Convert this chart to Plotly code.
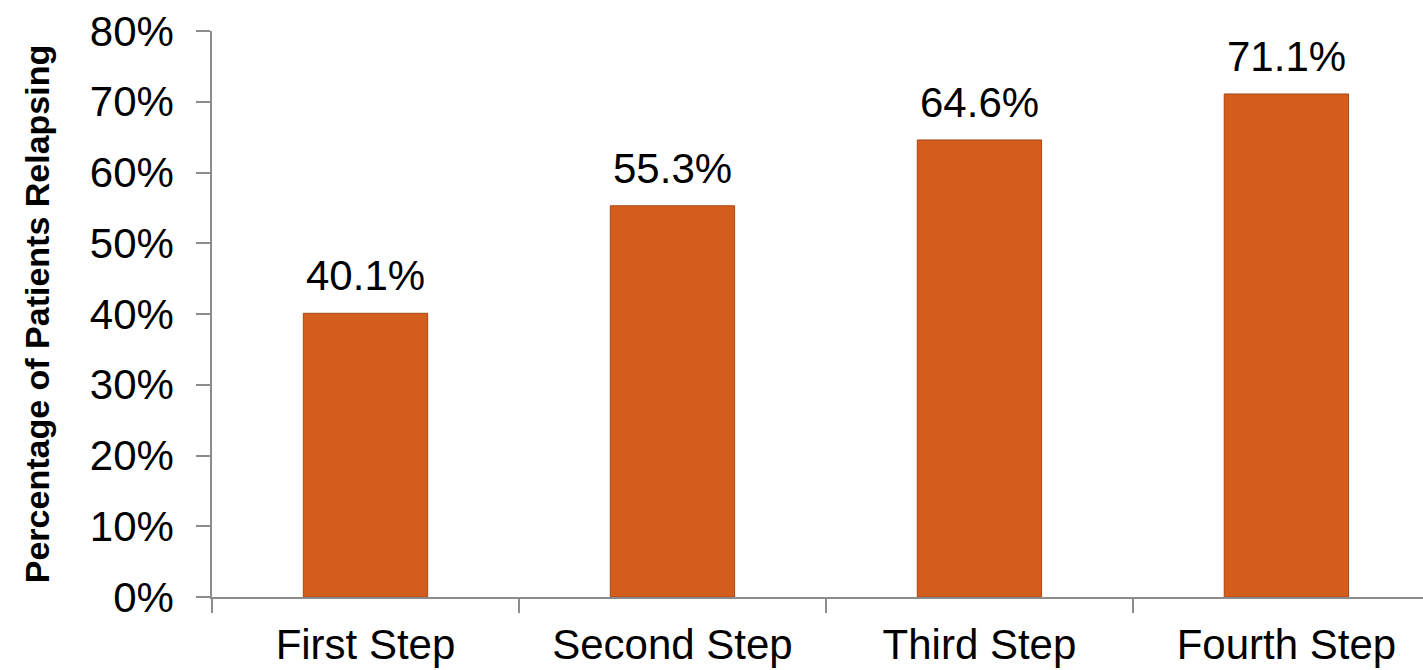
import plotly.graph_objects as go

# Relapse rates by treatment step
steps = ["First Step", "Second Step", "Third Step", "Fourth Step"]
relapse_pct = [40.1, 55.3, 64.6, 71.1]
y_ticks = [0, 10, 20, 30, 40, 50, 60, 70, 80]
y_tick_labels = [f"{v}%" for v in y_ticks]

FONT = "Liberation Sans, Arial, sans-serif"
AXIS_GREY = "#8c8c8c"

fig = go.Figure()

fig.add_trace(go.Bar(
    x=steps,
    y=relapse_pct,
    width=0.405,
    marker=dict(color="#D35D1D", line=dict(color="#A84614", width=1)),
    hoverinfo="x+y",
))

# value labels above each bar
for step, v in zip(steps, relapse_pct):
    fig.add_annotation(
        x=step, y=v, text=f"{v:.1f}%",
        showarrow=False, yanchor="bottom", yshift=12,
        font=dict(family=FONT, size=42, color="#000000"),
    )

fig.update_layout(
    width=1423, height=670,
    margin=dict(l=212, r=0, t=31, b=73),
    paper_bgcolor="white", plot_bgcolor="white",
    showlegend=False,
    font=dict(family=FONT, color="#000000"),
    xaxis=dict(
        type="category",
        range=[-0.5, 3.445],
        showline=True, linecolor=AXIS_GREY, linewidth=1.5,
        ticks="outside", tickson="boundaries", ticklen=14,
        tickcolor=AXIS_GREY, tickwidth=1.5,
        ticklabelstandoff=10,
        tickfont=dict(family=FONT, size=42, color="#000000"),
        showgrid=False, zeroline=False,
    ),
    yaxis=dict(
        range=[0, 80],
        tickvals=y_ticks, ticktext=y_tick_labels,
        showline=True, linecolor=AXIS_GREY, linewidth=1.5,
        ticks="outside", ticklen=14, tickcolor=AXIS_GREY, tickwidth=1.5,
        ticklabelstandoff=14,
        tickfont=dict(family=FONT, size=42, color="#000000"),
        showgrid=False, zeroline=False,
        title=dict(text="<b>Percentage of Patients Relapsing</b>",
                   font=dict(family=FONT, size=34, color="#000000"),
                   standoff=30),
    ),
)

fig.write_html("out.html")
